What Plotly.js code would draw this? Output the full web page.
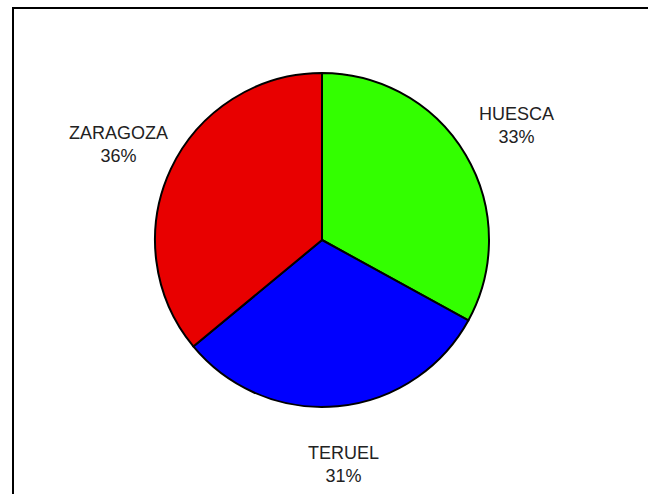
<!DOCTYPE html>
<html>
<head>
<meta charset="utf-8">
<script src="https://cdn.plot.ly/plotly-3.0.1.min.js"></script>
<style>
  html, body { margin: 0; padding: 0; background: #fff; }
  #wrap { position: relative; width: 648px; height: 494px; overflow: hidden; }
  #frame { position: absolute; left: 12px; top: 7px; width: 700px; height: 600px;
           border-left: 2px solid #000; border-top: 2px solid #000; pointer-events: none; }
  #chart { position: absolute; left: 0; top: 0; width: 648px; height: 494px; }
</style>
</head>
<body>
<div id="wrap">
  <div id="chart"></div>
  <div id="frame"></div>
</div>
<script>
const provinces = ['HUESCA', 'TERUEL', 'ZARAGOZA'];
const shares = [33, 31, 36];
const sliceColors = ['#33ff00', '#0000ff', '#e80000'];

const W = 648, H = 494;
const cxPx = 322, cyPx = 240, rPx = 167;
const domX = [(cxPx - rPx) / W, (cxPx + rPx) / W];
const domY = [(H - cyPx - rPx) / H, (H - cyPx + rPx) / H];

const total = shares.reduce((a, b) => a + b, 0);
const annotations = [];
let acc = 0;
shares.forEach((v, i) => {
  const mid = (acc + v / 2) / total * 2 * Math.PI;
  acc += v;
  const d = rPx * 1.35;
  const xPx = cxPx + d * Math.sin(mid);
  const yPx = cyPx - d * Math.cos(mid);
  annotations.push({
    xref: 'paper', yref: 'paper',
    x: xPx / W, y: 1 - yPx / H,
    xanchor: 'center', yanchor: 'middle',
    showarrow: false,
    text: provinces[i] + '<br>' + Math.round(v / total * 100) + '%',
    font: { family: 'Liberation Sans, Arial, sans-serif', size: 18, color: '#222' }
  });
});

const data = [{
  type: 'pie',
  labels: provinces,
  values: shares,
  sort: false,
  direction: 'clockwise',
  rotation: 0,
  textinfo: 'none',
  hoverinfo: 'label+percent',
  marker: { colors: sliceColors, line: { color: '#000', width: 2 } },
  domain: { x: domX, y: domY }
}];

const layout = {
  width: W, height: H,
  margin: { l: 0, r: 0, t: 0, b: 0 },
  showlegend: false,
  paper_bgcolor: '#fff',
  annotations: annotations
};

Plotly.newPlot('chart', data, layout, { displayModeBar: false, staticPlot: true });
</script>
</body>
</html>
